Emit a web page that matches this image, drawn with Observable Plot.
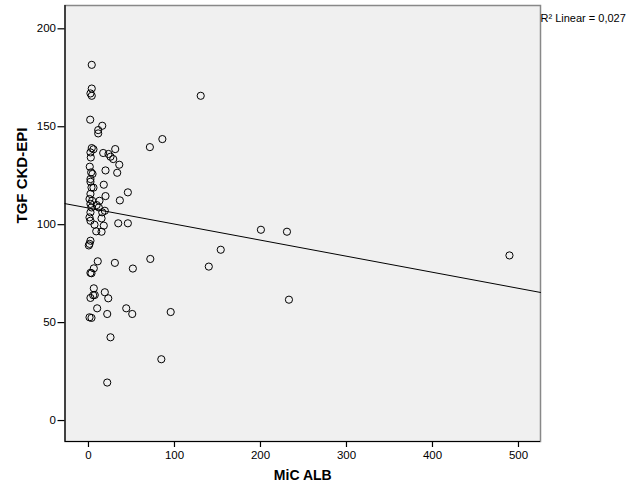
<!DOCTYPE html>
<html><head><meta charset="utf-8">
<script src="https://cdn.jsdelivr.net/npm/d3@7"></script>
<script src="https://cdn.jsdelivr.net/npm/@observablehq/plot@0.6"></script>
<style>body{margin:0;background:#fff;font-family:"Liberation Sans",Arial,sans-serif}</style>
</head><body><div id="chart"></div>
<script>
const micAlb = [3.8,3.8,2.3,3.8,2,16,11.3,11.3,3.8,5.8,31.1,17.1,23.3,25.6,28.8,35.8,33.4,19.8,2.7,1.5,3.1,4.7,17.8,19.8,36.5,45.8,71.4,85.9,2.3,3.5,5.8,2.3,1.2,4.3,2.3,12.8,3.5,12,19,16,2.3,1.2,2.3,15.2,17.8,9,15.2,34.6,45.8,2.3,1.2,0.4,10.8,30.7,51.6,71.9,6.2,2.3,3.5,6.2,19,23,2.3,7.3,10.1,21.8,43.9,50.9,1.2,3.5,95.6,25.6,84.7,21.8,200.5,230.8,153.8,139.9,233.1,489.5,130.5,2.3,2.3,5.5,9.5,7];
const tgfCkdEpi = [181.6,169.5,167,165.8,153.6,150.5,148.3,146.6,139.1,138.5,138.6,136.6,136.1,134.7,133.5,130.6,126.5,127.7,134.3,129.6,126.7,125.9,120.4,114.6,112.4,116.5,139.6,143.7,121.9,119,118.9,115.7,113.1,112.2,110.6,112.2,108.8,108.8,107.1,106.3,106.3,103.7,102,103.2,99.5,96.6,96.4,100.7,100.7,91.8,90.2,89.4,81.3,80.5,77.6,82.5,77.7,75.4,75.2,67.5,65.5,62.4,62.6,64.1,57.3,54.4,57.3,54.4,52.7,52.4,55.4,42.5,31.3,19.4,97.4,96.4,87.2,78.6,61.7,84.3,165.8,136.9,123.3,64,110,100];
const fitCoefficients = [108.5, -0.082]; // intercept, slope (R² Linear = 0,027)
const xTicks = [0,100,200,300,400,500];
const yTicks = [0,50,100,150,200];
const xDomain = [-27.3, 525.6];
const yDomain = [-10.7, 211.9];
const r2Label = "R² Linear = 0,027";

const points = micAlb.map((x,i)=>({x, y: tgfCkdEpi[i]}));
const fitLine = xDomain.map(x => ({x, y: fitCoefficients[0] + fitCoefficients[1]*x}));

const chart = Plot.plot({
  width: 626, height: 501,
  marginLeft: 64.5, marginRight: 86, marginTop: 5, marginBottom: 60,
  style: {fontFamily: '"Liberation Sans", Arial, sans-serif', background: "#fff", color: "#000"},
  x: {domain: xDomain},
  y: {domain: yDomain},
  marks: [
    Plot.frame({fill: "#f0f0f0", stroke: "#888", strokeWidth: 1.5}),
    Plot.ruleX([xDomain[0]], {stroke: "#000", strokeWidth: 1.2}),
    Plot.ruleY([yDomain[0]], {stroke: "#000", strokeWidth: 1.2}),
    Plot.axisX({ticks: xTicks, tickSize: 6, tickPadding: 3, fontSize: 11.5, label: null, strokeWidth: 1.2}),
    Plot.axisY({ticks: yTicks, tickSize: 7, tickPadding: 2, fontSize: 11.5, label: null, strokeWidth: 1.2}),
    Plot.line(fitLine, {x: "x", y: "y", stroke: "#000", strokeWidth: 1}),
    Plot.dot(points, {x: "x", y: "y", r: 3.6, stroke: "#000", fill: "none", strokeWidth: 1}),
    Plot.text([r2Label], {frameAnchor: "top-right", textAnchor: "start", dx: 0, dy: 9, fontSize: 11}),
    Plot.text(["MiC ALB"], {frameAnchor: "bottom", dy: 38, fontSize: 14, fontWeight: "bold"}),
    Plot.text(["TGF CKD-EPI"], {frameAnchor: "left", dx: -43, rotate: -90, fontSize: 15, fontWeight: "bold"})
  ]
});
document.getElementById("chart").appendChild(chart);
</script>
</body></html>
